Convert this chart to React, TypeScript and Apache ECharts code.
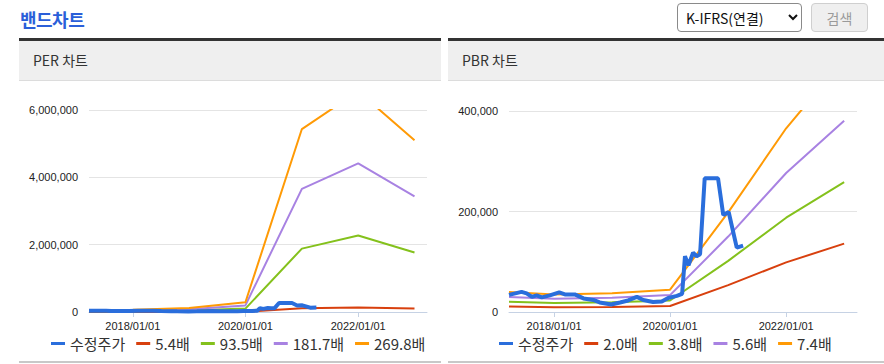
import React, { useEffect, useRef } from "react";
import * as echarts from "echarts";

// ---- data ----
const axisMinDate = "2017/03/23";
const axisMaxDate = "2023/03/23";
const xTickDates = ["2018/01/01", "2020/01/01", "2022/01/01"];

const bandDates = ["2017/03/23", "2018/01/01", "2019/01/01", "2020/01/01", "2021/01/01", "2022/01/01", "2023/01/01"];

const perLegend = ["5.4배", "93.5배", "181.7배", "269.8배"];
const per54 = [1240, 1400, 2430, 5830, 108800, 131200, 102100];
const per935 = [21500, 24300, 42100, 101000, 1883000, 2272000, 1767000];
const per1817 = [41800, 47200, 81800, 196200, 3659000, 4415000, 3434000];
const per2698 = [62100, 70100, 121400, 291400, 5434000, 6556000, 5099000];

const pbrLegend = ["2.0배", "3.8배", "5.6배", "7.4배"];
const pbr20 = [10700, 9400, 10100, 12000, 53600, 98800, 136000];
const pbr38 = [20300, 17900, 19200, 22800, 101800, 187700, 258400];
const pbr56 = [30000, 26300, 28300, 33600, 150100, 276600, 380800];
const pbr74 = [39600, 34800, 37400, 44400, 198300, 365600, 503200];

const priceName = "수정주가";
const priceDates = [
  "2017/03/23", "2017/06/10", "2017/07/12", "2017/08/14", "2017/09/13", "2017/10/15", "2017/12/05",
  "2018/02/02", "2018/03/10", "2018/05/11", "2018/07/05", "2018/09/05", "2018/10/15", "2018/12/27",
  "2019/02/20", "2019/04/12", "2019/06/06", "2019/07/16", "2019/09/16", "2019/11/10", "2019/12/20",
  "2020/02/13", "2020/03/17", "2020/04/04", "2020/04/26", "2020/05/25", "2020/06/16", "2020/07/08",
  "2020/08/06", "2020/09/30", "2020/10/29", "2020/12/01", "2021/01/04", "2021/02/24", "2021/04/05",
];
const priceValues = [
  34000, 40000, 37000, 30000, 33000, 29000, 33000,
  39000, 35000, 35000, 27000, 24000, 19000, 15000,
  19000, 23000, 30000, 24000, 20000, 21000, 28000,
  32000, 36000, 111000, 93000, 118000, 111000, 115000,
  266000, 266000, 266000, 193000, 199000, 128000, 132000,
];

const perTickMax = 6000000;
const perTickStep = 2000000;
const pbrTickMax = 400000;
const pbrTickStep = 200000;

const colors = {
  price: "#2a6edc",
  red: "#d8400e",
  green: "#84c11c",
  purple: "#a882e2",
  orange: "#ff9a05",
};

// ---- helpers ----
const toTs = (s: string) => {
  const [y, m, d] = s.split("/").map(Number);
  return new Date(y, m - 1, d).getTime();
};
const pad = (n: number) => (n < 10 ? "0" + n : "" + n);
const fmtDate = (v: number) => {
  const d = new Date(v);
  return `${d.getFullYear()}/${pad(d.getMonth() + 1)}/${pad(d.getDate())}`;
};
const fmtNum = (v: number) => Number(v).toLocaleString("en-US");

const latin = "'Liberation Sans', Arial, 'Noto Sans CJK KR', sans-serif";
const kr = "'Noto Sans CJK KR', 'Liberation Sans', sans-serif";

function xAxis(gridIndex: number) {
  const ticks = xTickDates.map(toTs);
  return {
    type: "value",
    gridIndex,
    min: toTs(axisMinDate),
    max: toTs(axisMaxDate),
    axisLine: { show: true, onZero: false, lineStyle: { color: "#c6d2e4", width: 1 } },
    axisTick: { show: true, customValues: ticks, length: 5, inside: false, lineStyle: { color: "#c6d2e4" } },
    axisLabel: {
      customValues: ticks,
      formatter: (v: number) => fmtDate(v),
      color: "#222",
      fontSize: 11,
      fontFamily: latin,
      margin: 8,
    },
    splitLine: { show: false },
  };
}

function yAxis(gridIndex: number, max: number, step: number) {
  return {
    type: "value",
    gridIndex,
    min: 0,
    max,
    interval: step,
    axisLine: { show: false },
    axisTick: { show: false },
    axisLabel: { color: "#222", fontSize: 11, fontFamily: latin, margin: 11, formatter: (v: number) => fmtNum(v) },
    splitLine: { show: true, lineStyle: { color: "#e4e4e4", width: 1 } },
  };
}

function bandSeries(name: string, values: number[], color: string, idx: number) {
  return {
    name,
    type: "line",
    xAxisIndex: idx,
    yAxisIndex: idx,
    data: bandDates.map((d, i) => [toTs(d), values[i]]),
    showSymbol: false,
    symbol: "none",
    color,
    lineStyle: { color, width: 2 },
    z: 2,
  };
}

function priceSeries(idx: number) {
  return {
    name: priceName,
    type: "line",
    xAxisIndex: idx,
    yAxisIndex: idx,
    data: priceDates.map((d, i) => [toTs(d), priceValues[i]]),
    showSymbol: false,
    symbol: "none",
    color: colors.price,
    lineStyle: { color: colors.price, width: 4 },
    z: 5,
  };
}

function legend(left: number, names: string[]) {
  return {
    left,
    top: 331,
    icon: "rect",
    itemWidth: 14,
    itemHeight: 3,
    itemGap: 11,
    selectedMode: false,
    textStyle: { fontSize: 15, color: "#333", fontFamily: kr },
    data: [priceName, ...names],
  };
}

function Chart() {
  const ref = useRef<HTMLDivElement>(null);
  useEffect(() => {
    if (!ref.current) return;
    const chart = echarts.init(ref.current, null, { renderer: "svg" });
    chart.setOption({
      animation: false,
      backgroundColor: "transparent",
      grid: [
        { left: 89, top: 110, width: 338, height: 202, containLabel: false },
        { left: 509, top: 111, width: 348, height: 201, containLabel: false },
      ],
      xAxis: [xAxis(0), xAxis(1)],
      yAxis: [yAxis(0, perTickMax, perTickStep), yAxis(1, pbrTickMax, pbrTickStep)],
      legend: [legend(46, perLegend), legend(494, pbrLegend)],
      series: [
        bandSeries(perLegend[0], per54, colors.red, 0),
        bandSeries(perLegend[1], per935, colors.green, 0),
        bandSeries(perLegend[2], per1817, colors.purple, 0),
        bandSeries(perLegend[3], per2698, colors.orange, 0),
        priceSeries(0),
        bandSeries(pbrLegend[0], pbr20, colors.red, 1),
        bandSeries(pbrLegend[1], pbr38, colors.green, 1),
        bandSeries(pbrLegend[2], pbr56, colors.purple, 1),
        bandSeries(pbrLegend[3], pbr74, colors.orange, 1),
        priceSeries(1),
      ],
    });
    return () => chart.dispose();
  }, []);
  return <div ref={ref} style={{ position: "absolute", left: 0, top: 0, width: 884, height: 364 }} />;
}

function Panel({ left, width, title }: { left: number; width: number; title: string }) {
  return (
    <>
      <div
        style={{
          position: "absolute",
          left,
          top: 38,
          width,
          height: 39,
          borderTop: "3px solid #333",
          borderBottom: "1px solid #dcdcdc",
          background: "#efefef",
        }}
      >
        <div
          style={{
            position: "absolute",
            left: 14,
            top: 0,
            lineHeight: "39px",
            fontSize: 14,
            color: "#333",
            fontFamily: kr,
          }}
        >
          {title}
        </div>
      </div>
      <div style={{ position: "absolute", left, top: 361, width, height: 2, background: "#c8c8c8" }} />
    </>
  );
}

export default function App() {
  return (
    <div
      style={{
        position: "fixed",
        left: 0,
        top: 0,
        width: 884,
        height: 364,
        background: "#fff",
        overflow: "hidden",
        fontFamily: kr,
      }}
    >
      <div
        style={{
          position: "absolute",
          left: 20,
          top: 6,
          fontSize: 18,
          lineHeight: "26px",
          fontWeight: 700,
          color: "#2b5fd9",
          fontFamily: kr,
          letterSpacing: -0.5,
        }}
      >
        밴드차트
      </div>
      <select
        defaultValue="K-IFRS(연결)"
        style={{
          position: "absolute",
          left: 677,
          top: 3,
          width: 125,
          height: 29,
          fontSize: 14,
          fontFamily: kr,
          color: "#111",
          border: "1px solid #8a8a8a",
          borderRadius: 4,
          background: "#fff",
          padding: "0 4px",
        }}
      >
        <option>K-IFRS(연결)</option>
      </select>
      <button
        disabled
        style={{
          position: "absolute",
          left: 811,
          top: 3,
          width: 57,
          height: 29,
          fontSize: 14,
          fontFamily: kr,
          color: "#9a9a9a",
          background: "#efefef",
          border: "1px solid #cfcfcf",
          borderRadius: 4,
          padding: 0,
        }}
      >
        검색
      </button>
      <Panel left={19} width={422} title="PER 차트" />
      <Panel left={448} width={436} title="PBR 차트" />
      <Chart />
    </div>
  );
}
